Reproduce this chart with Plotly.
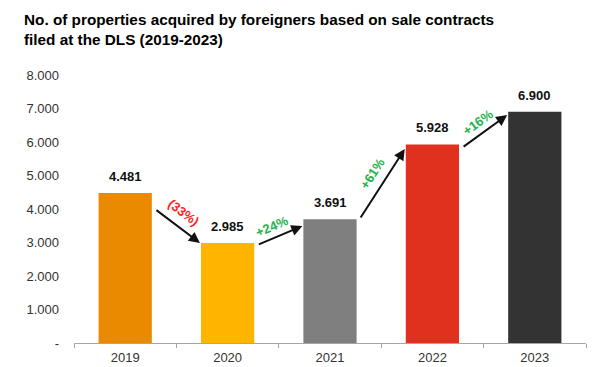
import math
import plotly.graph_objects as go

years = ["2019", "2020", "2021", "2022", "2023"]
values = [4481, 2985, 3691, 5928, 6900]
bar_colors = ["#E98A00", "#FFB400", "#7F7F7F", "#E0301E", "#333333"]
y_tickvals = [0, 1000, 2000, 3000, 4000, 5000, 6000, 7000, 8000]
y_ticktext = ["-", "1.000", "2.000", "3.000", "4.000", "5.000", "6.000", "7.000", "8.000"]

FONT = "Liberation Sans, Arial, sans-serif"

def fmt(v):
    return f"{v:,}".replace(",", ".")

fig = go.Figure()
fig.add_trace(go.Bar(
    x=years, y=values, marker=dict(color=bar_colors, line=dict(width=0)),
    hoverinfo="skip", showlegend=False,
))

annotations = []
# value labels
for i, v in enumerate(values):
    annotations.append(dict(
        x=i, y=v, xref="x", yref="y", text=f"<b>{fmt(v)}</b>", showarrow=False,
        yanchor="bottom", yshift=7, font=dict(family=FONT, size=13, color="#111111"),
    ))

# arrow styling (offsets relative to bars, in data units)
tail_dx = 0.29
head_dx = 0.27
tail_dy = [-480, -60, 10, -100]
head_dy = [0, -200, -140, -95]
label_shift = [(6, 13), (-8, 9), (-10, 11), (-7, 9)]
px_per_cat = 102.4
px_per_val = 268 / 8000

for i in range(len(values) - 1):
    v0, v1 = values[i], values[i + 1]
    tx, ty = i + tail_dx, v0 + tail_dy[i]
    hx, hy = i + 1 - head_dx, v1 + head_dy[i]
    annotations.append(dict(
        x=hx, y=hy, ax=tx, ay=ty, xref="x", yref="y", axref="x", ayref="y",
        showarrow=True, arrowhead=2, arrowsize=1.1, arrowwidth=2, arrowcolor="#111111",
        text="",
    ))
    pct = round((v1 / v0 - 1) * 100)
    if pct < 0:
        txt, col = f"({abs(pct)}%)", "#FF2020"
    else:
        txt, col = f"+{pct}%", "#1FB24A"
    dxp = (hx - tx) * px_per_cat
    dyp = -(hy - ty) * px_per_val
    ang = math.degrees(math.atan2(dyp, dxp))
    annotations.append(dict(
        x=(tx + hx) / 2, y=(ty + hy) / 2, xref="x", yref="y", showarrow=False,
        text=f"<b>{txt}</b>", textangle=ang,
        xshift=label_shift[i][0], yshift=label_shift[i][1],
        font=dict(family=FONT, size=13, color=col),
    ))

annotations.append(dict(
    x=(22 - 74) / (600 - 74 - 14), y=1 + (75 - 9) / (367 - 75 - 24),
    xref="paper", yref="paper", showarrow=False,
    xanchor="left", yanchor="top", align="left",
    text="<b>No. of properties acquired by foreigners based on sale contracts<br>filed at the DLS (2019-2023)</b>",
    font=dict(family=FONT, size=15.3, color="#000000"),
))

fig.update_layout(
    width=600, height=367,
    margin=dict(l=74, r=14, t=75, b=24, autoexpand=False),
    paper_bgcolor="white", plot_bgcolor="white",
    bargap=0.48,
    annotations=annotations,
    font=dict(family=FONT, size=13, color="#333333"),
)

fig.update_xaxes(
    type="category", range=[-0.5, 4.5], autorange=False, automargin=False,
    showline=True, linecolor="#A6A6A6", linewidth=1,
    ticks="outside", ticklen=4, tickcolor="#A6A6A6", tickson="boundaries",
    showgrid=False, zeroline=False, tickangle=0, ticklabelstandoff=2,
    tickfont=dict(family=FONT, size=13, color="#333333"),
    fixedrange=True,
)
fig.update_yaxes(
    range=[0, 8000], autorange=False, automargin=False,
    tickvals=y_tickvals, ticktext=y_ticktext, showgrid=False,
    zeroline=False, showline=False, ticklabelstandoff=14,
    tickfont=dict(family=FONT, size=13, color="#333333"), fixedrange=True,
)

fig.write_html(
    "out.html",
    config={"displayModeBar": False},
    post_script="document.body.style.margin='0';",
)
